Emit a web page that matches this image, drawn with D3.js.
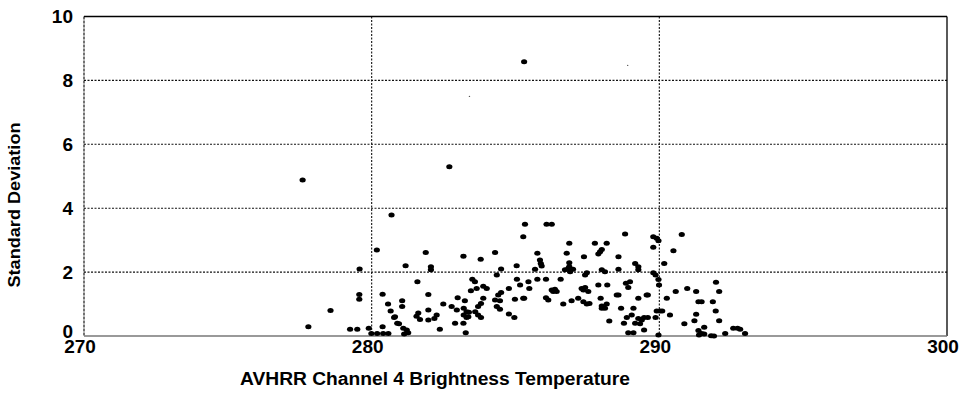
<!DOCTYPE html>
<html>
<head>
<meta charset="utf-8">
<script src="https://cdn.jsdelivr.net/npm/d3@7"></script>
<style>
  html, body { margin: 0; padding: 0; background: #fff; }
  svg { display: block; }
  text { font-family: "Liberation Sans", Arial, sans-serif; fill: #000; }
</style>
</head>
<body>
<svg id="chart" width="968" height="393"></svg>
<script>
// ---- data ----
const xTicks = [270, 280, 290, 300];
const yTicks = [0, 2, 4, 6, 8, 10];
const xGrid = [280, 290];
const yGrid = [2, 4, 6, 8];
const xTitle = "AVHRR Channel 4 Brightness Temperature";
const yTitle = "Standard Deviation";

// brightness temperature (K)
const temps = [
  277.6, 282.7, 285.3,
  280.69, 280.18, 279.58, 279.57, 279.57, 278.57, 277.8, 279.25, 279.5, 279.9,
  280.38, 280.57, 280.66, 280.78, 280.89, 280.38, 279.99, 280.19, 280.4, 280.58,
  285.33, 285.27, 281.18, 282.06, 282.06, 281.88, 283.19, 283.79, 284.29, 284.5,
  284.35, 285.04, 285.05, 281.59, 281.97, 281.06, 281.06, 280.81,
  280.95, 281.1, 281.22, 281.27, 281.13,
  281.62, 281.56, 281.68, 281.97, 281.97, 282.26, 282.18, 282.37, 282.49,
  282.99, 283.24, 282.78, 282.96, 283.2, 283.3, 283.2, 283.3, 282.9, 283.19, 283.27,
  283.5, 283.59, 283.45, 283.65, 283.88, 284.0, 283.88,
  283.8, 283.7, 283.6, 283.7, 283.8, 283.38, 283.36,
  284.29, 284.5, 284.4, 284.46, 284.35, 284.46, 284.77, 284.98, 284.77, 284.96, 285.27,
  286.08, 286.26, 286.87, 287.76, 288.17, 288.81, 285.76,
  285.85, 285.88, 285.91, 286.78, 286.87, 286.87,
  286.72, 286.9, 287.0, 286.84, 287.38, 287.94, 288.0, 287.88, 288.0, 288.11,
  288.58, 288.58, 289.16, 289.27, 289.27, 285.68, 287.48, 287.42,
  285.16, 285.45, 285.48, 285.76, 286.06, 286.57, 285.3,
  286.26, 286.37, 286.43, 286.31, 286.06, 286.14, 286.66, 286.95, 287.18,
  287.3, 287.36, 287.53, 287.42, 287.36, 287.48, 287.57, 287.88, 287.96,
  288.0, 288.17, 288.11, 288.0, 288.19, 288.52, 288.58, 288.84, 288.92, 288.98,
  288.67, 289.1, 289.27, 289.56, 288.26, 288.87, 289.04, 288.77,
  289.27, 289.39, 289.47, 289.16, 289.33, 288.92, 289.1, 289.47,
  290.78, 289.79, 289.91, 289.97, 289.79, 290.49, 290.17,
  289.79, 289.87, 289.97, 289.99, 289.6, 290.26, 290.57, 290.97, 291.28, 291.97, 292.08,
  291.36, 291.47, 291.86, 291.96, 289.91, 290.02, 290.1, 289.6, 289.87, 290.37,
  291.28, 291.22, 290.87, 292.08, 291.56, 291.36, 291.47, 291.38, 291.56,
  291.8, 291.9, 292.29, 292.57, 292.72, 292.81, 292.98, 289.97
];
// standard deviation
const stdevs = [
  4.88, 5.3, 8.58,
  3.79, 2.69, 2.10, 1.3, 1.15, 0.80, 0.29, 0.21, 0.21, 0.24,
  1.31, 1.0, 0.78, 0.58, 0.40, 0.29, 0.08, 0.08, 0.08, 0.08,
  3.5, 3.11, 2.2, 2.17, 2.07, 2.61, 2.5, 2.4, 2.61, 2.1,
  1.91, 2.2, 1.78, 1.7, 1.3, 1.1, 0.92, 0.6,
  0.38, 0.24, 0.19, 0.1, 0.06,
  0.72, 0.62, 0.52, 0.81, 0.5, 0.66, 0.55, 0.21, 1.0,
  1.2, 1.1, 0.92, 0.81, 0.87, 0.76, 0.66, 0.58, 0.4, 0.4, 0.1,
  1.78, 1.7, 1.42, 1.49, 1.56, 1.49, 1.18,
  1.02, 0.92, 0.76, 0.66, 0.58, 0.74, 0.6,
  1.13, 1.36, 1.28, 1.1, 0.92, 0.84, 1.49, 1.15, 0.69, 0.58, 1.18,
  3.5, 3.5, 2.9, 2.9, 2.9, 3.19, 2.59,
  2.38, 2.27, 2.19, 2.59, 2.29, 2.17,
  2.07, 2.01, 2.09, 2.12, 2.48, 2.64, 2.71, 2.57, 2.07, 2.01,
  2.48, 2.09, 2.27, 2.17, 2.07, 2.09, 1.98, 1.91,
  1.6, 1.7, 1.49, 1.78, 1.78, 1.78, 1.18,
  1.44, 1.46, 1.39, 1.39, 1.2, 1.13, 1.0, 1.1, 1.18,
  1.49, 1.44, 1.39, 1.52, 1.07, 1.0, 1.02, 1.6, 1.18,
  0.94, 1.0, 0.87, 0.87, 1.6, 1.28, 1.28, 1.65, 1.52, 1.7,
  0.87, 0.87, 1.18, 1.28, 0.47, 0.58, 0.66, 0.4,
  0.55, 0.5, 0.58, 0.4, 0.38, 0.1, 0.1, 0.19,
  3.18, 3.11, 3.06, 2.98, 2.78, 2.67, 2.27,
  1.98, 1.91, 1.77, 1.6, 1.28, 1.18, 1.39, 1.49, 1.39, 1.68, 1.39,
  1.07, 1.07, 1.07, 0.78, 0.78, 0.78, 0.78, 0.58, 0.58, 0.66,
  0.68, 0.48, 0.38, 0.48, 0.27, 0.17, 0.08, 0.03, 0.06,
  0.01, 0.0, 0.08, 0.24, 0.24, 0.21, 0.08, 0.03
];
// faint specks
const speckTemps = [283.4, 288.9];
const speckStdevs = [7.5, 8.47];

// ---- layout ----
const svg = d3.select("#chart");
const margin = { left: 84, right: 21, top: 16.5, bottom: 57 };
const W = 968, H = 393;
const x = d3.scaleLinear().domain([270, 300]).range([margin.left, W - margin.right]);
const y = d3.scaleLinear().domain([0, 10]).range([H - margin.bottom, margin.top]);

const g = svg.append("g");

// grid
g.selectAll(".hgrid").data(yGrid).join("line")
  .attr("x1", x(270)).attr("x2", x(300))
  .attr("y1", d => y(d)).attr("y2", d => y(d))
  .attr("stroke", "#111").attr("stroke-width", 1.1).attr("stroke-dasharray", "2,1.5");
g.selectAll(".vgrid").data(xGrid).join("line")
  .attr("x1", d => x(d)).attr("x2", d => x(d))
  .attr("y1", y(10)).attr("y2", y(0))
  .attr("stroke", "#111").attr("stroke-width", 1.1).attr("stroke-dasharray", "2,1.5");

// frame
g.append("line").attr("x1", x(270)).attr("x2", x(300)).attr("y1", y(10)).attr("y2", y(10))
  .attr("stroke", "#000").attr("stroke-width", 1.3);
g.append("line").attr("x1", x(300)).attr("x2", x(300)).attr("y1", y(10)).attr("y2", y(0))
  .attr("stroke", "#000").attr("stroke-width", 1.3);
g.append("line").attr("x1", x(270)).attr("x2", x(270)).attr("y1", y(10)).attr("y2", y(0))
  .attr("stroke", "#000").attr("stroke-width", 1.1).attr("stroke-dasharray", "3,1");
g.append("line").attr("x1", x(270)).attr("x2", x(300)).attr("y1", y(0)).attr("y2", y(0))
  .attr("stroke", "#777").attr("stroke-width", 1.5);

// points
const pts = temps.map((t, i) => ({ t, s: stdevs[i] }));
g.selectAll(".pt").data(pts).join("ellipse")
  .attr("cx", d => x(d.t)).attr("cy", d => y(d.s))
  .attr("rx", 3.1).attr("ry", 2.5).attr("fill", "#000");

const specks = speckTemps.map((t, i) => ({ t, s: speckStdevs[i] }));
g.selectAll(".speck").data(specks).join("circle")
  .attr("cx", d => x(d.t)).attr("cy", d => y(d.s))
  .attr("r", 0.7).attr("fill", "#555");

// tick labels
g.selectAll(".ylab").data(yTicks).join("text")
  .attr("x", x(270) - 11).attr("y", d => y(d) - (d === 0 ? 5 : 0))
  .attr("text-anchor", "end").attr("dominant-baseline", "central")
  .attr("font-size", 19).attr("font-weight", "bold")
  .text(d => d);
g.selectAll(".xlab").data(xTicks).join("text")
  .attr("x", d => x(d) - 4).attr("y", y(0) + 17)
  .attr("text-anchor", "middle")
  .attr("font-size", 19).attr("font-weight", "bold")
  .text(d => d);

// titles
g.append("text")
  .attr("x", 435).attr("y", H - 8)
  .attr("text-anchor", "middle")
  .attr("font-size", 18).attr("font-weight", "bold")
  .attr("textLength", 390).attr("lengthAdjust", "spacingAndGlyphs")
  .text(xTitle);
g.append("text")
  .attr("transform", `translate(20, 205) rotate(-90)`)
  .attr("text-anchor", "middle")
  .attr("font-size", 17).attr("font-weight", "bold")
  .attr("textLength", 165).attr("lengthAdjust", "spacingAndGlyphs")
  .text(yTitle);
</script>
</body>
</html>
